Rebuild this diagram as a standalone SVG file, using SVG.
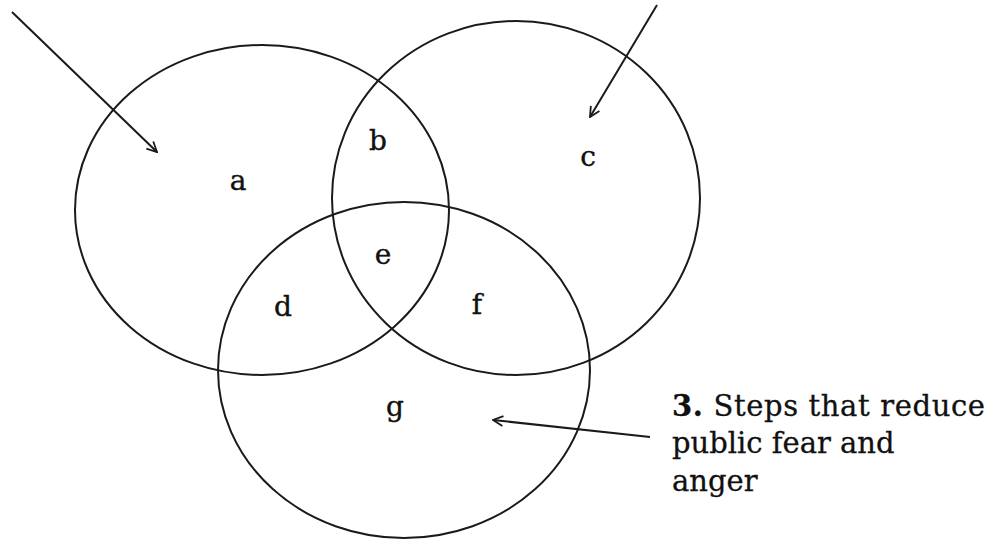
<svg xmlns="http://www.w3.org/2000/svg" width="999" height="540" viewBox="0 0 999 540">
<defs>
<style>
.c{fill:none;stroke:#1a1a1a;stroke-width:2}
.l{font-family:"DejaVu Serif","Liberation Serif",serif;font-size:28px;fill:#111;stroke:#111;stroke-width:0.4;text-anchor:middle}
.t{font-family:"DejaVu Serif","Liberation Serif",serif;font-size:29px;fill:#111;stroke:#111;stroke-width:0.3}
</style>
<marker id="ah" viewBox="0 0 12 12" refX="11" refY="6" markerWidth="12" markerHeight="12" markerUnits="userSpaceOnUse" orient="auto">
<path d="M1,1 L11,6 L1,11" fill="none" stroke="#1a1a1a" stroke-width="1.8"/>
</marker>
</defs>
<rect width="999" height="540" fill="#fff"/>
<g id="circleA"><ellipse class="c" cx="262" cy="210" rx="187" ry="165"/><text class="l" x="238" y="190">a</text></g>
<g id="circleC"><ellipse class="c" cx="516" cy="198" rx="184" ry="177"/><text class="l" x="588" y="166">c</text></g>
<g id="circleG"><ellipse class="c" cx="404" cy="370" rx="186" ry="168"/><text class="l" x="395" y="416">g</text></g>
<g id="labels">
<text class="l" x="378" y="150">b</text>
<text class="l" x="383" y="264">e</text>
<text class="l" x="283" y="316">d</text>
<text class="l" x="477" y="314">f</text>
</g>
<g id="label3"><text class="t" x="672" y="416" textLength="313" lengthAdjust="spacing"><tspan font-weight="bold">3.</tspan> Steps that reduce</text>
<text class="t" x="672" y="453">public fear and</text>
<text class="t" x="672" y="491">anger</text></g>
<g id="connectors">
<line class="c" x1="12" y1="12" x2="157" y2="152" marker-end="url(#ah)"/>
<line class="c" x1="657" y1="5" x2="590" y2="117" marker-end="url(#ah)"/>
<line class="c" x1="650" y1="437" x2="493" y2="420" marker-end="url(#ah)"/>
</g>
</svg>
